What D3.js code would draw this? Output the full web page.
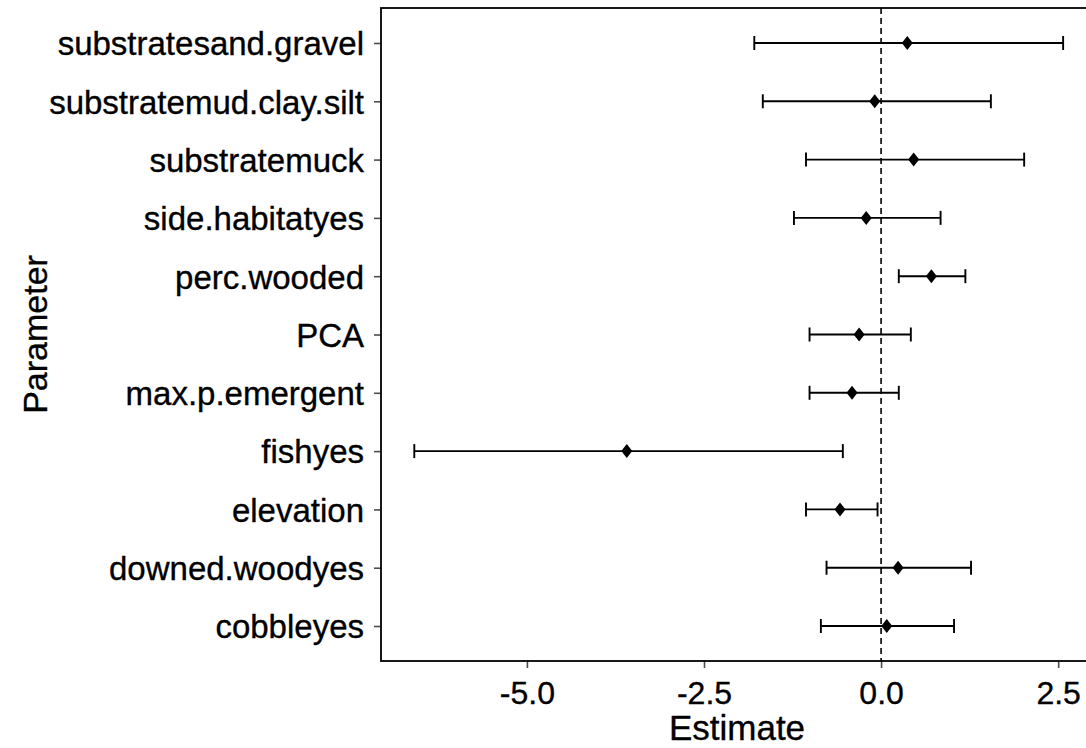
<!DOCTYPE html>
<html>
<head>
<meta charset="utf-8">
<script src="https://cdn.jsdelivr.net/npm/d3@7"></script>
<style>
  html, body { margin: 0; padding: 0; background: #fff; overflow: hidden; }
  text { font-family: "Liberation Sans", Arial, sans-serif; }
</style>
</head>
<body>
<svg id="chart" width="1086" height="748"></svg>
<script>
// Model coefficients with 95% confidence limits
const parameters = ["substratesand.gravel", "substratemud.clay.silt", "substratemuck",
  "side.habitatyes", "perc.wooded", "PCA", "max.p.emergent", "fishyes",
  "elevation", "downed.woodyes", "cobbleyes"];
const estimates = [0.37, -0.09, 0.46, -0.21, 0.71, -0.31, -0.41, -3.59, -0.58, 0.24, 0.08];
const lowerCI   = [-1.79, -1.67, -1.06, -1.23, 0.25, -1.01, -1.01, -6.59, -1.06, -0.77, -0.85];
const upperCI   = [2.57, 1.55, 2.02, 0.84, 1.19, 0.42, 0.25, -0.54, -0.05, 1.27, 1.03];
const xTicks = [-5.0, -2.5, 0.0, 2.5];

const svg = d3.select("#chart");
const panel = { left: 381, top: 8, right: 1095, bottom: 661 };

const x = d3.scaleLinear().domain([-7.06, 3.02]).range([panel.left, panel.right]);
const y = d3.scalePoint().domain(parameters).range([panel.top, panel.bottom]).padding(0.6);

// axes
const xAxis = svg.append("g").attr("transform", `translate(0,${panel.bottom})`)
  .call(d3.axisBottom(x).tickValues(xTicks).tickFormat(d => d.toFixed(1)).tickSize(7).tickPadding(4));
const yAxis = svg.append("g").attr("transform", `translate(${panel.left},0)`)
  .call(d3.axisLeft(y).tickSize(7).tickPadding(10));
[xAxis, yAxis].forEach(g => {
  g.select(".domain").remove();
  g.selectAll(".tick line").attr("stroke", "#4d4d4d").attr("stroke-width", 1.6);
  g.selectAll(".tick text").attr("fill", "#000")
    .attr("stroke", "#000").attr("stroke-width", 0.35)
    .style("font-size", "32px");
});
xAxis.selectAll(".tick text").attr("dy", null).attr("y", 43);
yAxis.selectAll(".tick text").attr("dy", "0.36em").style("font-size", "33px");

// reference line at zero
svg.append("line")
  .attr("x1", x(0)).attr("x2", x(0))
  .attr("y1", panel.top).attr("y2", panel.bottom)
  .attr("stroke", "#000").attr("stroke-width", 1.6)
  .attr("stroke-dasharray", "6,4");

const rows = parameters.map((p, i) => ({ p, est: estimates[i], lo: lowerCI[i], hi: upperCI[i] }));

// error bars
const bars = svg.append("g").selectAll("g").data(rows).join("g")
  .attr("stroke", "#000").attr("stroke-width", 1.9);
bars.append("line").attr("x1", d => x(d.lo)).attr("x2", d => x(d.hi))
  .attr("y1", d => y(d.p)).attr("y2", d => y(d.p));
bars.append("line").attr("x1", d => x(d.lo)).attr("x2", d => x(d.lo))
  .attr("y1", d => y(d.p) - 7).attr("y2", d => y(d.p) + 7);
bars.append("line").attr("x1", d => x(d.hi)).attr("x2", d => x(d.hi))
  .attr("y1", d => y(d.p) - 7).attr("y2", d => y(d.p) + 7);

// diamond point estimates
svg.append("g").selectAll("path").data(rows).join("path")
  .attr("d", "M0,-7L5.5,0L0,7L-5.5,0Z")
  .attr("transform", d => `translate(${x(d.est)},${y(d.p)})`)
  .attr("fill", "#000");

// panel border
svg.append("rect")
  .attr("x", panel.left).attr("y", panel.top)
  .attr("width", panel.right - panel.left).attr("height", panel.bottom - panel.top)
  .attr("fill", "none").attr("stroke", "#000").attr("stroke-width", 1.8);

// axis titles
svg.append("text").attr("x", 737).attr("y", 740)
  .attr("text-anchor", "middle").style("font-size", "35px")
  .attr("fill", "#000").attr("stroke", "#000").attr("stroke-width", 0.35)
  .text("Estimate");
svg.append("text").attr("transform", `translate(47,${(panel.top + panel.bottom) / 2}) rotate(-90)`)
  .attr("text-anchor", "middle").style("font-size", "34px")
  .attr("fill", "#000").attr("stroke", "#000").attr("stroke-width", 0.35)
  .text("Parameter");
</script>
</body>
</html>
